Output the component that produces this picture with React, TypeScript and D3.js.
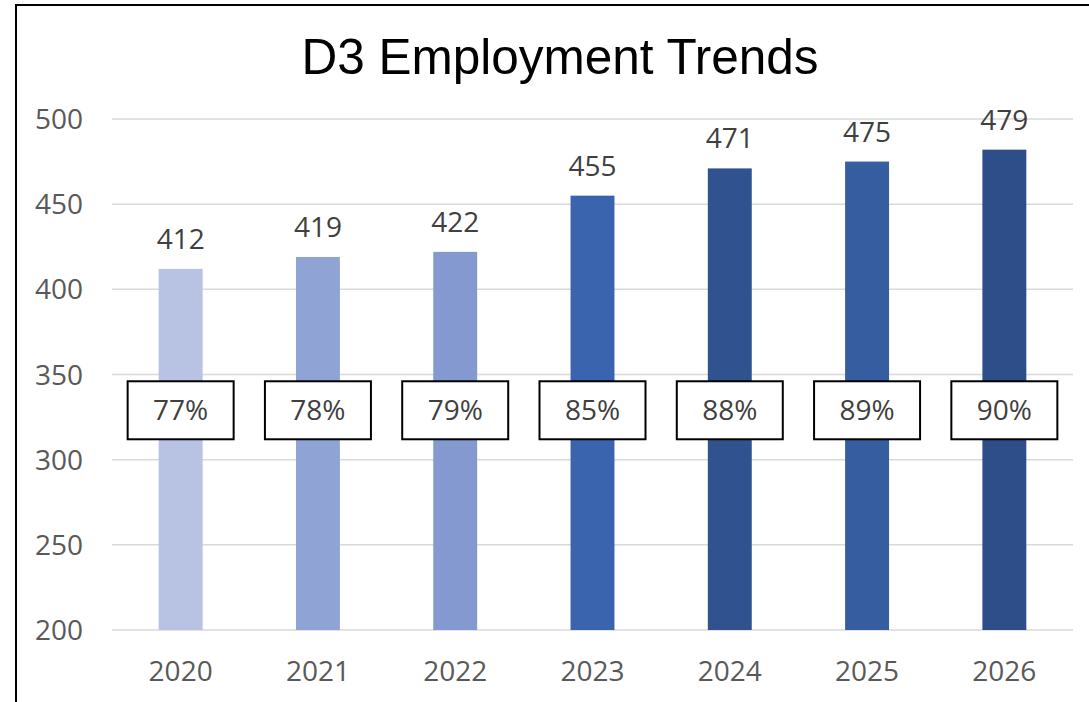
import React from "react";
import * as d3 from "d3";

const years = ["2020", "2021", "2022", "2023", "2024", "2025", "2026"];
const barValues = [412, 419, 422, 455, 471, 475, 482];
const valueLabels = ["412", "419", "422", "455", "471", "475", "479"];
const shareLabels = ["77%", "78%", "79%", "85%", "88%", "89%", "90%"];
const barColors = ["#B8C3E3", "#8FA4D4", "#8399CF", "#3A64AD", "#30538F", "#365DA0", "#2E4E8A"];
const yTicks = [200, 250, 300, 350, 400, 450, 500];
const boxLevel = 329;

const W = 1089;
const H = 702;

export default function App() {
  const x = d3.scaleBand<string>().domain(years).range([112, 1073]).paddingInner(0.68).paddingOuter(0.34);
  const y = d3.scaleLinear().domain([200, 500]).range([630, 119]);
  const font = "'Open Sans', sans-serif";
  const boxW = 106;
  const boxH = 58;

  return (
    <svg width={W} height={H} style={{ position: "absolute", left: 0, top: 0, background: "#fff" }}>
      <rect x={0} y={0} width={W} height={H} fill="#fff" />
      <rect x={16} y={5} width={W + 50} height={H + 50} fill="none" stroke="#000" strokeWidth={2} />
      <text x={560} y={74} textAnchor="middle" fontFamily="'Liberation Sans', Arial, sans-serif" fontSize={49.5} fill="#000">
        D3 Employment Trends
      </text>
      {yTicks.map((t) => (
        <g key={t}>
          <line x1={112} x2={1073} y1={y(t)} y2={y(t)} stroke="#D9D9D9" strokeWidth={1.5} />
          <text x={83} y={y(t)} dy="0.36em" textAnchor="end" fontFamily={font} fontSize={28} fill="#595959">
            {t}
          </text>
        </g>
      ))}
      {years.map((yr, i) => {
        const bx = x(yr)!;
        const cx = bx + x.bandwidth() / 2;
        const top = y(barValues[i]);
        return (
          <g key={yr}>
            <rect x={bx} y={top} width={x.bandwidth()} height={y(200) - top} fill={barColors[i]} />
            <text x={cx} y={top - 20} textAnchor="middle" fontFamily={font} fontSize={28} fill="#404040">
              {valueLabels[i]}
            </text>
            <text x={cx} y={681} textAnchor="middle" fontFamily={font} fontSize={28} fill="#595959">
              {yr}
            </text>
            <rect
              x={cx - boxW / 2}
              y={y(boxLevel) - boxH / 2}
              width={boxW}
              height={boxH}
              fill="#fff"
              stroke="#000"
              strokeWidth={2}
            />
            <text x={cx} y={y(boxLevel)} dy="0.36em" textAnchor="middle" fontFamily={font} fontSize={28} fill="#404040">
              {shareLabels[i]}
            </text>
          </g>
        );
      })}
    </svg>
  );
}
